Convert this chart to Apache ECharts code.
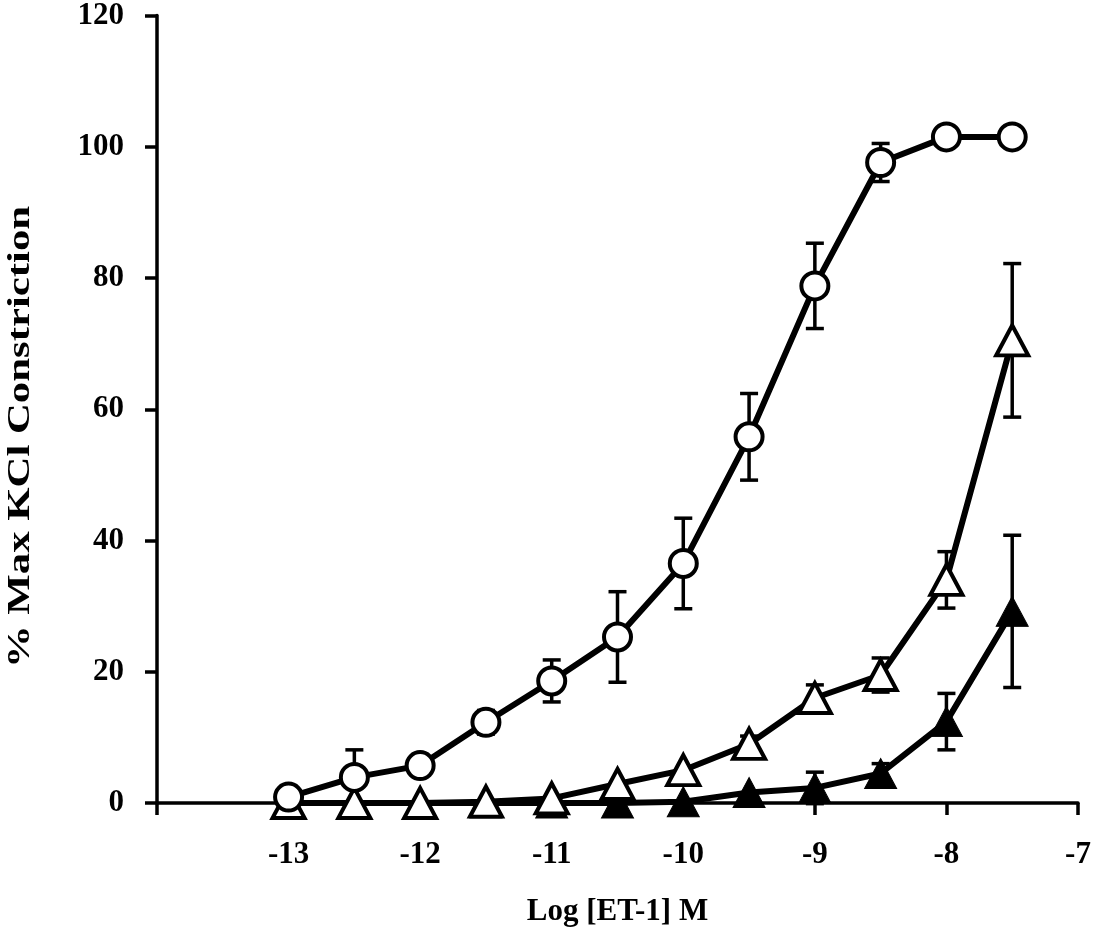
<!DOCTYPE html>
<html>
<head>
<meta charset="utf-8">
<script src="https://cdn.jsdelivr.net/npm/echarts@6/dist/echarts.min.js"></script>
<style>html,body{margin:0;padding:0;background:#fff}#chart{width:1096px;height:939px}</style>
</head>
<body>
<div id="chart"></div>
<script>
// Log [ET-1] M concentrations
const logConc = [-13, -12.5, -12, -11.5, -11, -10.5, -10, -9.5, -9, -8.5, -8, -7.5];
// open circles
const circleVals = [0.9, 3.9, 5.7, 12.3, 18.6, 25.3, 36.5, 55.8, 78.8, 97.6, 101.5, 101.5];
const circleErr  = [0, 4.2, 0, 1.8, 3.2, 6.9, 6.9, 6.6, 6.5, 2.9, 0, 0];
// open triangles
const openTriVals = [0, 0, 0, 0.2, 0.7, 2.9, 5.0, 9.0, 16.0, 19.5, 34.0, 70.5];
const openTriErr  = [0, 0, 0, 0, 0, 0, 0, 1.2, 2.0, 2.6, 4.3, 11.7];
// filled triangles
const fillTriVals = [0, 0, 0, 0, 0, 0, 0.2, 1.6, 2.3, 4.5, 12.4, 29.2];
const fillTriErr  = [0, 0, 0, 0, 0, 0, 0, 0, 2.4, 1.5, 4.3, 11.6];
// axis ticks
const xTicks = [-14, -13, -12, -11, -10, -9, -8, -7];
const xTickLabels = ['', '-13', '-12', '-11', '-10', '-9', '-8', '-7'];
const yTicks = [0, 20, 40, 60, 80, 100, 120];

const FONT = '"Liberation Serif", "Times New Roman", serif';

function pairs(vals) { return logConc.map((x, i) => [x, vals[i]]); }
function errData(vals, errs) { return logConc.map((x, i) => [x, vals[i], errs[i]]); }

function errRender(params, api) {
  const x = api.value(0), y = api.value(1), e = api.value(2);
  if (!e) return null;
  const t = api.coord([x, y + e]);
  const b = api.coord([x, y - e]);
  const hw = 9;
  const st = { stroke: '#000', lineWidth: 3.5 };
  return {
    type: 'group',
    children: [
      { type: 'line', shape: { x1: t[0], y1: t[1], x2: b[0], y2: b[1] }, style: st },
      { type: 'line', shape: { x1: t[0] - hw, y1: t[1], x2: t[0] + hw, y2: t[1] }, style: st },
      { type: 'line', shape: { x1: b[0] - hw, y1: b[1], x2: b[0] + hw, y2: b[1] }, style: st }
    ]
  };
}

const chart = echarts.init(document.getElementById('chart'), null, { renderer: 'canvas' });
chart.setOption({
  backgroundColor: '#fff',
  animation: false,
  grid: { left: 157, right: 18, top: 15, bottom: 136 },
  xAxis: {
    type: 'value', min: xTicks[0], max: xTicks[xTicks.length - 1], interval: 1,
    name: 'Log [ET-1] M', nameLocation: 'middle', nameGap: 93,
    nameTextStyle: { fontFamily: FONT, fontWeight: 'bold', fontSize: 31, color: '#000' },
    axisLine: { onZero: false, lineStyle: { color: '#000', width: 3.5 } },
    axisTick: { inside: false, length: 12, lineStyle: { color: '#000', width: 3.5 } },
    axisLabel: {
      margin: 36, fontFamily: FONT, fontWeight: 'bold', fontSize: 31, color: '#000',
      formatter: v => { const i = xTicks.indexOf(Math.round(v)); return i >= 0 ? xTickLabels[i] : ''; }
    },
    splitLine: { show: false }
  },
  yAxis: {
    type: 'value', min: yTicks[0], max: yTicks[yTicks.length - 1], interval: 20,
    axisLine: { onZero: false, lineStyle: { color: '#000', width: 3.5 } },
    axisTick: { inside: false, length: 12, lineStyle: { color: '#000', width: 3.5 } },
    axisLabel: { margin: 33, fontFamily: FONT, fontWeight: 'bold', fontSize: 31, color: '#000' },
    splitLine: { show: false }
  },
  graphic: [{
    type: 'text', x: 21, y: 437, rotation: Math.PI / 2, scaleX: 1.38, scaleY: 1,
    style: {
      text: '% Max KCl Constriction', fill: '#000',
      font: 'bold 31px ' + FONT,
      align: 'center', verticalAlign: 'middle', textAlign: 'center', textVerticalAlign: 'middle'
    }
  }],
  series: [
    { type: 'custom', z: 1, renderItem: errRender, data: errData(fillTriVals, fillTriErr), clip: false },
    { type: 'custom', z: 1, renderItem: errRender, data: errData(openTriVals, openTriErr), clip: false },
    { type: 'custom', z: 1, renderItem: errRender, data: errData(circleVals, circleErr), clip: false },
    {
      type: 'line', z: 3, data: pairs(fillTriVals), symbol: 'triangle', symbolSize: [32, 30],
      lineStyle: { color: '#000', width: 6 },
      itemStyle: { color: '#000', borderColor: '#000', borderWidth: 1 }
    },
    {
      type: 'line', z: 4, data: pairs(openTriVals), symbol: 'triangle', symbolSize: [32, 30],
      lineStyle: { color: '#000', width: 6 },
      itemStyle: { color: '#fff', borderColor: '#000', borderWidth: 4 }
    },
    {
      type: 'line', z: 5, data: pairs(circleVals), symbol: 'circle', symbolSize: 27,
      lineStyle: { color: '#000', width: 6 },
      itemStyle: { color: '#fff', borderColor: '#000', borderWidth: 4 }
    }
  ]
});
</script>
</body>
</html>
